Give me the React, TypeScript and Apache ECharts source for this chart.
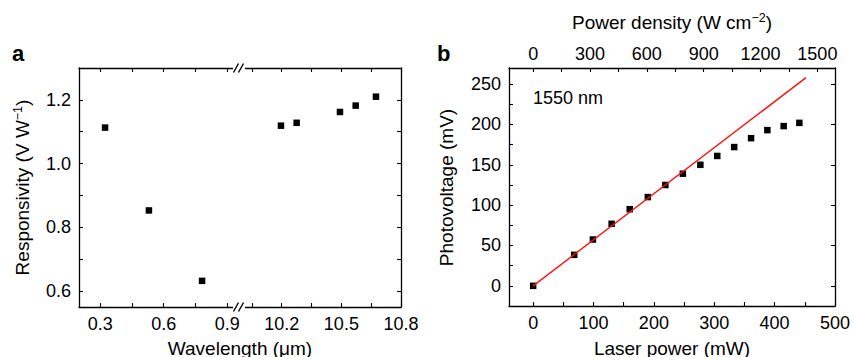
import React, { useEffect, useRef } from 'react';
import * as echarts from 'echarts';

// Panel a data
const visibleWavelengths = [0.323, 0.53, 0.781];
const visibleResponsivity = [1.113, 0.853, 0.632];
const infraredWavelengths = [10.196, 10.275, 10.493, 10.572, 10.674];
const infraredResponsivity = [1.119, 1.128, 1.162, 1.182, 1.21];

// Panel b data
const laserPower = [0, 68, 99, 130, 160, 190, 219, 248, 277, 305, 333, 361, 388, 415, 441];
const photovoltage = [0, 38.4, 57.4, 76.9, 95, 110, 125, 139, 150, 161, 172, 183, 193, 198, 202];
const fitPower = [0, 452];
const fitVoltage = [0, 258];

// Ticks
const wlLowTickLabels = [0.3, 0.6, 0.9];
const wlLowTicks = [0.3, 0.45, 0.6, 0.75, 0.9];
const wlHighTickLabels = [10.2, 10.5, 10.8];
const wlHighTicks = [10.05, 10.2, 10.35, 10.5, 10.65, 10.8];
const respTickLabels = [0.6, 0.8, 1.0, 1.2];
const respTicks = [0.6, 0.7, 0.8, 0.9, 1.0, 1.1, 1.2];
const powerTickLabels = [0, 100, 200, 300, 400, 500];
const powerTicks = [0, 50, 100, 150, 200, 250, 300, 350, 400, 450, 500];
const densityTickLabels = [0, 300, 600, 900, 1200, 1500];
const densityTicks = [0, 150, 300, 450, 600, 750, 900, 1050, 1200, 1350, 1500];
const voltTickLabels = [0, 50, 100, 150, 200, 250];
const voltTicks = [0, 25, 50, 75, 100, 125, 150, 175, 200, 225, 250];
const voltRightTicks = [0, 50, 100, 150, 200, 250];

const FONT = '"Liberation Sans", Arial, Helvetica, sans-serif';

type AxisOpts = {
  gridIndex: number;
  position: string;
  min: number;
  max: number;
  labels?: number[];
  ticks: number[];
  margin?: number;
  fmt?: (v: number) => string;
};

const mkAxis = (o: AxisOpts) => ({
  type: 'value',
  gridIndex: o.gridIndex,
  position: o.position,
  min: o.min,
  max: o.max,
  axisLine: { show: true, onZero: false, lineStyle: { color: '#000', width: 1.3 } },
  axisTick: {
    show: true,
    inside: true,
    length: 4,
    customValues: o.ticks,
    lineStyle: { color: '#000', width: 1.1 },
  },
  minorTick: { show: false },
  splitLine: { show: false },
  axisLabel: o.labels
    ? {
        show: true,
        customValues: o.labels,
        margin: o.margin ?? 8,
        fontSize: 18,
        color: '#000',
        fontFamily: FONT,
        showMinLabel: true,
        showMaxLabel: true,
        formatter: o.fmt ?? ((v: number) => String(v)),
      }
    : { show: false },
});

const fix1 = (v: number) => v.toFixed(1);

const txt = (
  text: string,
  x: number,
  y: number,
  extra: Record<string, any> = {},
  rotation = 0
) => ({
  type: 'text',
  x,
  y,
  rotation,
  z: 110,
  style: {
    text,
    fill: '#000',
    fontSize: 19,
    fontFamily: FONT,
    align: 'center',
    verticalAlign: 'middle',
    ...extra,
  },
});

const supRich = {
  sup: { fontSize: 12.5, lineHeight: 12, verticalAlign: 'top', fontFamily: FONT, fill: '#000' },
};

const breakMark = (y: number) => [
  { type: 'rect', z: 100, shape: { x: 233, y: y - 2.5, width: 12, height: 5 }, style: { fill: '#fff' } },
  { type: 'line', z: 101, shape: { x1: 233.5, y1: y + 4.5, x2: 238.5, y2: y - 4.5 }, style: { stroke: '#000', lineWidth: 1.4 } },
  { type: 'line', z: 101, shape: { x1: 238.5, y1: y + 4.5, x2: 243.5, y2: y - 4.5 }, style: { stroke: '#000', lineWidth: 1.4 } },
];

const markerStyle = { color: '#000', opacity: 1 };

export default function App() {
  const ref = useRef<HTMLDivElement>(null);
  useEffect(() => {
    if (!ref.current) return;
    const chart = echarts.init(ref.current, undefined, { renderer: 'svg' });
    const option: any = {
      animation: false,
      backgroundColor: '#fff',
      grid: [
        { left: 79, top: 68, width: 161, height: 239 },
        { left: 240, top: 68, width: 161, height: 239 },
        { left: 509, top: 68, width: 328, height: 238 },
      ],
      xAxis: [
        mkAxis({ gridIndex: 0, position: 'bottom', min: 0.2, max: 0.96, labels: wlLowTickLabels, ticks: wlLowTicks, fmt: fix1 }),
        mkAxis({ gridIndex: 0, position: 'top', min: 0.2, max: 0.96, ticks: wlLowTicks }),
        mkAxis({ gridIndex: 1, position: 'bottom', min: 9.99, max: 10.8, labels: wlHighTickLabels, ticks: wlHighTicks, fmt: fix1 }),
        mkAxis({ gridIndex: 1, position: 'top', min: 9.99, max: 10.8, ticks: wlHighTicks }),
        mkAxis({ gridIndex: 2, position: 'bottom', min: -40, max: 500, labels: powerTickLabels, ticks: powerTicks }),
        mkAxis({ gridIndex: 2, position: 'top', min: -127.4, max: 1593, labels: densityTickLabels, ticks: densityTicks, margin: 5 }),
      ],
      yAxis: [
        mkAxis({ gridIndex: 0, position: 'left', min: 0.55, max: 1.3, labels: respTickLabels, ticks: respTicks, fmt: fix1 }),
        mkAxis({ gridIndex: 1, position: 'right', min: 0.55, max: 1.3, ticks: respTicks }),
        mkAxis({ gridIndex: 2, position: 'left', min: -25, max: 270, labels: voltTickLabels, ticks: voltTicks }),
        mkAxis({ gridIndex: 2, position: 'right', min: -25, max: 270, ticks: voltRightTicks }),
      ],
      series: [
        {
          type: 'scatter',
          xAxisIndex: 0,
          yAxisIndex: 0,
          symbol: 'rect',
          symbolSize: 6.5,
          itemStyle: markerStyle,
          data: visibleWavelengths.map((x, i) => [x, visibleResponsivity[i]]),
        },
        {
          type: 'scatter',
          xAxisIndex: 2,
          yAxisIndex: 1,
          symbol: 'rect',
          symbolSize: 6.5,
          itemStyle: markerStyle,
          data: infraredWavelengths.map((x, i) => [x, infraredResponsivity[i]]),
        },
        {
          type: 'line',
          xAxisIndex: 4,
          yAxisIndex: 2,
          showSymbol: false,
          symbol: 'none',
          z: 3,
          lineStyle: { color: '#ff1010', width: 1.4 },
          data: fitPower.map((x, i) => [x, fitVoltage[i]]),
        },
        {
          type: 'scatter',
          xAxisIndex: 4,
          yAxisIndex: 2,
          symbol: 'rect',
          symbolSize: 6.5,
          z: 2,
          itemStyle: markerStyle,
          data: laserPower.map((x, i) => [x, photovoltage[i]]),
        },
      ],
      graphic: [
        ...breakMark(68),
        ...breakMark(307),
        txt('a', 12, 53, { fontSize: 22, fontWeight: 'bold', align: 'left' }),
        txt('b', 437, 53, { fontSize: 22, fontWeight: 'bold', align: 'left' }),
        txt('Wavelength (μm)', 240, 348),
        txt('Laser power (mW)', 672, 348),
        txt('Power density (W cm{sup|−2})', 672, 22, { lineHeight: 22, rich: supRich }),
        txt('Responsivity (V W{sup|−1})', 22, 187.5, { lineHeight: 22, rich: supRich }, Math.PI / 2),
        txt('Photovoltage (mV)', 446, 187.5, {}, Math.PI / 2),
        txt('1550 nm', 533, 97.5, { fontSize: 18, align: 'left' }),
      ],
    };
    chart.setOption(option);
    return () => chart.dispose();
  }, []);
  return (
    <div
      ref={ref}
      style={{ position: 'fixed', left: 0, top: 0, width: 853, height: 357, background: '#fff' }}
    />
  );
}
